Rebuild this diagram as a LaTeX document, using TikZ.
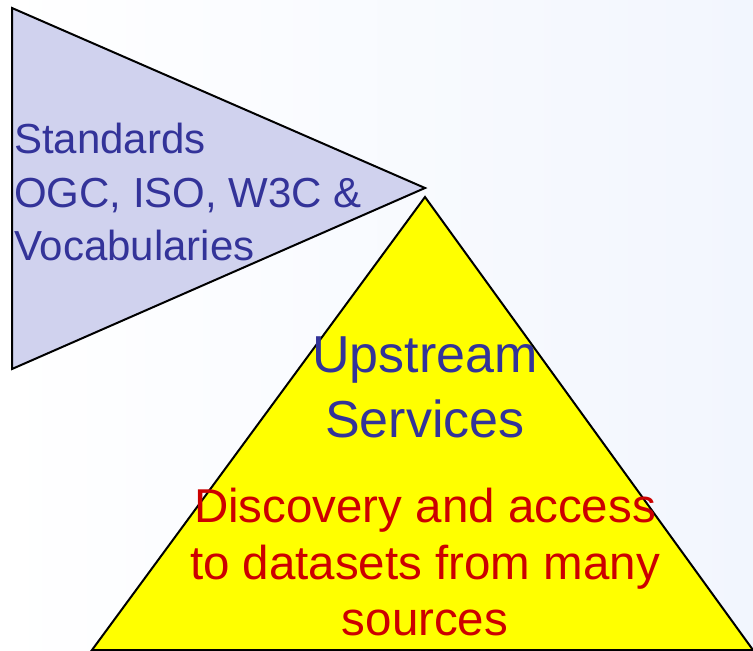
\documentclass[tikz,border=0pt]{standalone}
\usepackage{fontspec}
\setmainfont{Liberation Sans}
\usepackage{xcolor}

\definecolor{stdfill}{RGB}{208,210,238}
\definecolor{stdtext}{RGB}{51,51,153}
\definecolor{svcfill}{RGB}{255,255,0}
\definecolor{svcred}{RGB}{204,0,0}
\definecolor{bgblue}{RGB}{242,246,254}

\tikzset{
  edge/.style={draw=black,line width=2pt,line join=miter},
  label/.style={inner sep=0pt}
}

\begin{document}
\begin{tikzpicture}[x=1pt,y=-1pt]
  \useasboundingbox (0,0) rectangle (753,651);
  \shade[left color=white,right color=bgblue] (0,0) rectangle (753,651);

  \coordinate (stdtop) at (12,8);
  \coordinate (stdbottom) at (12,369);
  \coordinate (stdtip) at (425,188);

  \coordinate (svctip) at (425,197);
  \coordinate (svcleft) at (92,650);
  \coordinate (svcright) at (753,650);

  \draw[edge,fill=stdfill] (stdtop) -- (stdbottom) -- (stdtip) -- cycle;
  \draw[edge,fill=svcfill] (svctip) -- (svcleft) -- (svcright) -- cycle;

  \node (standards) at (14,123) [label,anchor=north west,align=left,text=stdtext,
    font=\fontsize{42}{53.5}\selectfont] {Standards\\OGC, ISO, W3C \&\\Vocabularies};

  \node (upstream) at (425,337) [label,anchor=north,align=center,text=stdtext,
    font=\fontsize{52}{65}\selectfont] {Upstream\\Services};

  \node (discovery) at (425,488) [label,anchor=north,align=center,text=svcred,
    font=\fontsize{47.5}{56.5}\selectfont] {Discovery and access\\to datasets from many\\sources};
\end{tikzpicture}
\end{document}
